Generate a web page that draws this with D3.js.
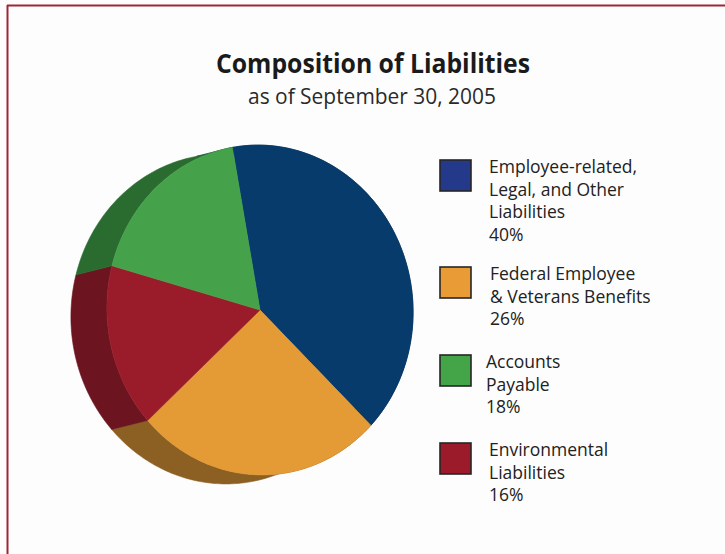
<!DOCTYPE html>
<html>
<head>
<meta charset="utf-8">
<script src="https://cdn.jsdelivr.net/npm/d3@7"></script>
<style>
  html, body { margin: 0; padding: 0; background: #ffffff; }
  svg { display: block; }
</style>
</head>
<body>
<svg id="chart" width="725" height="554"></svg>
<script>
// ---- data ----
const categories = [
  "Employee-related, Legal, and Other Liabilities",
  "Federal Employee & Veterans Benefits",
  "Accounts Payable",
  "Environmental Liabilities"
];
const legendLines = [
  ["Employee-related,", "Legal, and Other", "Liabilities"],
  ["Federal Employee", "& Veterans Benefits"],
  ["Accounts", "Payable"],
  ["Environmental", "Liabilities"]
];
const shares = [40, 26, 18, 16];
// clockwise order of the slices around the pie, starting at the top
const sliceOrder = [0, 1, 3, 2];

const faceColors  = ["#073b6b", "#e49b36", "#46a24a", "#9a1c2a"];
const sideColors  = ["#052a4d", "#8c5f22", "#2a6b30", "#6c1520"];
const swatchColors = ["#25398a", "#e99c35", "#44a548", "#9b1b2a"];

const titleText = "Composition of Liabilities";
const subtitleText = "as of September 30, 2005";

// ---- layout ----
const svg = d3.select("#chart");
svg.append("rect").attr("width", 725).attr("height", 554).attr("fill", "#fdfdfd");

// frame lines along top and left
svg.append("line").attr("x1", 7).attr("x2", 725).attr("y1", 5.5).attr("y2", 5.5)
  .attr("stroke", "#9e2637").attr("stroke-width", 2);
svg.append("line").attr("x1", 7.5).attr("x2", 7.5).attr("y1", 5).attr("y2", 554)
  .attr("stroke", "#9e2637").attr("stroke-width", 2);

const font = "'Open Sans', 'Noto Sans', sans-serif";

svg.append("text").text(titleText)
  .attr("x", 373).attr("y", 73).attr("text-anchor", "middle")
  .attr("font-family", font).attr("font-weight", 700).attr("font-size", 26)
  .attr("textLength", 314).attr("lengthAdjust", "spacingAndGlyphs")
  .attr("fill", "#1a1a1a");
svg.append("text").text(subtitleText)
  .attr("x", 372).attr("y", 104).attr("text-anchor", "middle")
  .attr("font-family", font).attr("font-size", 21)
  .attr("textLength", 248).attr("lengthAdjust", "spacingAndGlyphs")
  .attr("fill", "#2a2a2a");

// ---- tilted pie ----
const cx = 260, cy = 310;       // centre of the front face
const rx = 153, ry = 165;       // face semi-axes
const tilt = -5 * Math.PI / 180; // face rotation
const depth = [-36, 9];         // offset of the back face (thickness)
const startAngle = -5 * Math.PI / 180;

function rimPoint(phi, off) {
  const lx = rx * Math.sin(phi), ly = -ry * Math.cos(phi);
  const x = lx * Math.cos(tilt) - ly * Math.sin(tilt);
  const y = lx * Math.sin(tilt) + ly * Math.cos(tilt);
  return [cx + x + (off ? depth[0] : 0), cy + y + (off ? depth[1] : 0)];
}
function arcPoints(a0, a1, off) {
  const n = Math.max(8, Math.ceil((a1 - a0) / 0.02));
  return d3.range(n + 1).map(i => rimPoint(a0 + (a1 - a0) * i / n, off));
}

const pieData = sliceOrder.map(i => ({ idx: i, value: shares[i] }));
const arcs = d3.pie().sort(null).value(d => d.value)
  .startAngle(startAngle).endAngle(startAngle + 2 * Math.PI)(pieData);

const line = d3.line();
const pieG = svg.append("g");

// side walls first, the front faces cover the hidden parts
pieG.selectAll("path.side").data(arcs).join("path")
  .attr("class", "side")
  .attr("d", a => {
    const front = arcPoints(a.startAngle, a.endAngle, false);
    const back = arcPoints(a.startAngle, a.endAngle, true).reverse();
    return line(front.concat(back)) + "Z";
  })
  .attr("fill", a => sideColors[a.data.idx])
  .attr("stroke", a => sideColors[a.data.idx]).attr("stroke-width", 0.6);

pieG.selectAll("path.face").data(arcs).join("path")
  .attr("class", "face")
  .attr("d", a => line([[cx, cy]].concat(arcPoints(a.startAngle, a.endAngle, false))) + "Z")
  .attr("fill", a => faceColors[a.data.idx])
  .attr("stroke", a => faceColors[a.data.idx]).attr("stroke-width", 0.6);

// ---- legend ----
const swatchTops = [160, 267, 355, 443];
const textX = [489, 490, 486, 489];
const lineGap = 22.5;
const legend = svg.append("g");
categories.forEach((c, i) => {
  const g = legend.append("g");
  g.append("rect")
    .attr("x", 440).attr("y", swatchTops[i]).attr("width", 31).attr("height", 31)
    .attr("fill", swatchColors[i]).attr("stroke", "#262626").attr("stroke-width", 1.6);
  const lines = legendLines[i].concat([shares[i] + "%"]);
  lines.forEach((t, j) => {
    g.append("text").text(t)
      .attr("x", textX[i]).attr("y", swatchTops[i] + 13 + j * lineGap)
      .attr("font-family", font).attr("font-size", 17.5)
      .attr("fill", "#222222");
  });
});
</script>
</body>
</html>
